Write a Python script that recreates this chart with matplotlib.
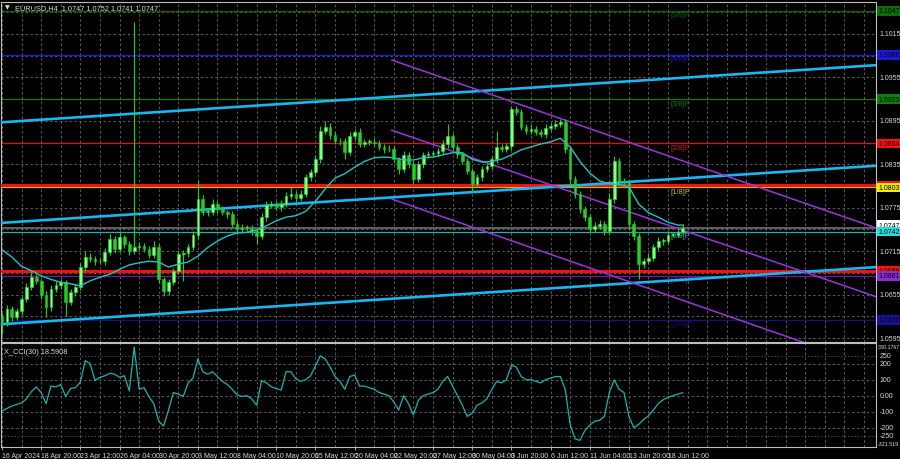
import matplotlib
matplotlib.use('Agg')
import matplotlib.pyplot as plt
import numpy as np

plt.rcParams['font.family'] = ['Liberation Sans', 'DejaVu Sans']

# ---------------- data ----------------
title = "EURUSD,H4  1.0747 1.0752 1.0741 1.0747"
cci_title = "X_CCI(30) 18.5908"

# closes in pips above 1.0000 (one candle = two H4 bars)
first_open = 625
close_pips = [617, 635, 624, 632, 649, 665, 679, 674, 655, 638,
              663, 668, 672, 645, 659, 665, 693, 707, 704, 701,
              701, 714, 732, 718, 735, 725, 715, 721, 722, 718,
              710, 721, 676, 660, 672, 687, 711, 712, 721, 737,
              787, 769, 769, 780, 773, 769, 766, 752, 746, 747,
              747, 743, 736, 762, 779, 780, 776, 780, 791, 794,
              788, 794, 817, 824, 842, 881, 887, 875, 867, 867,
              852, 874, 880, 863, 866, 866, 864, 859, 856, 856,
              842, 828, 848, 835, 815, 835, 848, 849, 850, 853,
              863, 874, 859, 849, 839, 826, 808, 817, 828, 833,
              842, 859, 856, 860, 911, 907, 887, 881, 884, 880,
              877, 885, 888, 891, 893, 856, 815, 794, 773, 762,
              746, 750, 752, 743, 787, 840, 811, 810, 752, 736,
              697, 701, 706, 721, 729, 729, 738, 738, 741, 747]
up_wick = [4, 5, 4, 5, 4, 6, 8, 4, 3, 5,
           5, 6, 4, 3, 4, 5, 6, 8, 5, 4,
           5, 6, 7, 4, 8, 3, 4, 311, 5, 4,
           4, 8, 4, 3, 4, 5, 4, 5, 4, 6,
           25, 6, 5, 7, 4, 4, 3, 4, 4, 5,
           4, 4, 3, 6, 5, 4, 4, 5, 6, 10,
           4, 5, 5, 4, 6, 7, 8, 5, 4, 5,
           4, 5, 4, 5, 4, 4, 5, 4, 4, 5,
           4, 3, 6, 4, 4, 5, 4, 5, 4, 4,
           6, 17, 4, 4, 3, 4, 4, 5, 4, 4,
           5, 22, 4, 5, 4, 5, 4, 4, 6, 4,
           4, 5, 4, 5, 5, 4, 3, 4, 4, 5,
           4, 5, 6, 4, 8, 6, 4, 5, 3, 4,
           4, 4, 5, 4, 5, 4, 5, 4, 4, 5]
dn_wick = [17, 5, 6, 4, 5, 4, 4, 5, 6, 14,
           5, 4, 5, 20, 5, 6, 4, 5, 4, 5,
           4, 5, 4, 5, 4, 5, 6, 4, 5, 4,
           5, 4, 5, 7, 5, 4, 4, 37, 5, 4,
           5, 4, 5, 4, 5, 4, 5, 4, 5, 4,
           4, 5, 11, 4, 5, 4, 4, 5, 4, 4,
           5, 4, 4, 5, 4, 5, 4, 5, 4, 5,
           10, 4, 5, 4, 4, 5, 4, 4, 5, 4,
           5, 6, 4, 5, 7, 4, 5, 4, 4, 5,
           4, 5, 4, 5, 4, 5, 11, 4, 5, 4,
           4, 5, 4, 4, 5, 4, 5, 4, 4, 5,
           4, 5, 4, 4, 5, 6, 8, 6, 5, 6,
           5, 4, 5, 6, 4, 5, 5, 4, 6, 5,
           21, 5, 4, 5, 4, 5, 4, 4, 4, 4]

# moving average (pips above 1.0000), read every second candle
ma_pips = [717, 707, 694, 688, 681, 676, 672, 670, 667, 674,
           679, 683, 690, 696, 699, 701, 700, 693, 697, 700,
           708, 720, 729, 736, 740, 741, 744, 750, 757, 762,
           764, 770, 784, 801, 816, 822, 831, 839, 844, 845,
           844, 841, 841, 844, 845, 848, 851, 851, 842, 838,
           839, 842, 848, 855, 859, 863, 866, 871, 859, 839,
           823, 812, 808, 807, 804, 780, 768, 762, 755, 751]

cci_values = [-95, -80, -65, -55, -45, -20, 25, 55, 20, -50,
              60, 55, 70, -5, 45, 50, 85, 220, 200, 95,
              115, 125, 140, 135, 115, 125, 30, 305, 40, 50,
              -5, -50, -160, -190, -90, 20, 10, -5, 80, 110,
              230, 150, 135, 150, 120, 90, 70, 40, 5, -5,
              0, -20, -60, 95, 80, 55, 45, 35, 150, 150,
              105, 90, 100, 125, 185, 250, 230, 180, 120, 90,
              40, 120, 130, 60, 60, 50, 40, 20, 10, 0,
              -40, -90, 0, -50, -120, -30, 0, 10, 20, 40,
              90, 120, 60, 0, -60, -130, -110, -60, -45, -20,
              40, 90, 80, 100, 190, 180, 120, 100, 100, 90,
              80, 100, 110, 120, 120, 40, -180, -270, -280, -220,
              -185, -160, -155, -130, 20, 100, 40, 20, -130, -200,
              -180, -150, -125, -90, -50, -25, -10, 0, 10, 18.59]

time_labels = ["16 Apr 2024", "18 Apr 20:00", "23 Apr 12:00", "26 Apr 04:00",
               "30 Apr 20:00", "3 May 12:00", "8 May 04:00", "10 May 20:00",
               "15 May 12:00", "20 May 04:00", "22 May 20:00", "27 May 12:00",
               "30 May 04:00", "3 Jun 20:00", "6 Jun 12:00", "11 Jun 04:00",
               "13 Jun 20:00", "18 Jun 12:00"]
time_label_bars = [0, 16, 32, 48, 64, 80, 96, 112, 128, 144, 160, 176,
                   192, 208, 224, 240, 256, 272]

murray_levels = [1.1047, 1.0986, 1.0925, 1.0864, 1.0803, 1.0742, 1.0681, 1.0620]
murray_names = ['[5/8]P', '[4/8]P', '[3/8]P', '[2/8]P', '[1/8]P', '[0/8]P', '[-1/8]P', '[-2/8]P']
murray_colors = ['#0b5e0b', '#1a1ad0', '#0d7d0d', '#e01010', '#c0c000', '#1fb0b0', '#6a1c9c', '#12127a']
support_levels = [1.0806, 1.0688]
bid_price = 1.0747
price_ticks = [1.1015, 1.0955, 1.0895, 1.0835, 1.0775, 1.0715, 1.0655, 1.0595]

# trend channels: (bar0, price0, bar1, price1)
blue_channel = [(-0.4, 1.0893, 357.0, 1.0972),
                (-0.4, 1.0754, 357.0, 1.0833),
                (-0.4, 1.0614, 357.0, 1.0693)]
purple_channel = [(159.2, 1.0979, 357.0, 1.0747),
                  (159.2, 1.0882, 357.0, 1.0652),
                  (159.2, 1.0787, 357.0, 1.0554)]

cci_ticks = [250, 200, 100, 0, -100, -200, -250]
cci_tick_text = ['250', '200', '100', '0.00', '-100', '-200', '-250']

# ---------------- derived ----------------
close = np.array(close_pips) / 10000 + 1.0
opens = np.concatenate([[first_open / 10000 + 1.0], close[:-1]])
high = np.maximum(opens, close) + np.array(up_wick) / 10000
low = np.minimum(opens, close) - np.array(dn_wick) / 10000
n = len(close)
bars = np.arange(n) * 2
ma = np.array(ma_pips) / 10000 + 1.0
ma_bars = np.arange(len(ma)) * 4
ma_bars = np.append(ma_bars, bars[-1])
ma = np.append(ma, ma[-1])

XMIN, XMAX = -0.4, 356.9
YMIN, YMAX = 1.05895, 1.10592

GRID = '#5c5c5c'
TXT = '#d8d8d8'
FS = 5.0

fig = plt.figure(figsize=(9, 4.6), dpi=100, facecolor='black')
ax = fig.add_axes([1 / 900, 1 - 343 / 460, 875 / 900, 340 / 460], facecolor='black')
ax2 = fig.add_axes([1 / 900, 1 - 448 / 460, 875 / 900, 104 / 460], facecolor='black')

for a in (ax, ax2):
    a.set_xlim(XMIN, XMAX)
    for s in a.spines.values():
        s.set_color('#bdbdbd')
        s.set_linewidth(0.8)
    for b in range(0, 357, 8):
        a.axvline(b, color=GRID, lw=0.7, ls=(0, (2.5, 2.5)), zorder=0)
    a.tick_params(left=False, right=False, labelleft=False, labelright=False)

ax.set_ylim(YMIN, YMAX)
ax.tick_params(bottom=False, labelbottom=False)
p = 1.0595
while p < YMAX:
    ax.axhline(p, color=GRID, lw=0.7, ls=(0, (2.5, 2.5)), zorder=0)
    p += 0.0030

# murray levels
for lvl, nm, col in zip(murray_levels, murray_names, murray_colors):
    ax.axhline(lvl, color=col, lw=0.9, zorder=1)
    ax.text(272.8, lvl - 0.00005, nm, color=col, fontsize=FS + 0.4, va='top', ha='left', zorder=2)

ax.axhline(bid_price, color='#7a7a7a', lw=1.1, zorder=1)
for lvl in support_levels:
    ax.axhline(lvl, color='#ff1010', lw=2.1, zorder=3)

# channels
for (b0, p0, b1, p1) in blue_channel:
    ax.plot([b0, b1], [p0, p1], color='#19b6f2', lw=1.9, zorder=4, solid_capstyle='butt')
for (b0, p0, b1, p1) in purple_channel:
    ax.plot([b0, b1], [p0, p1], color='#9b35db', lw=1.1, zorder=4)

# candles
up = close >= opens
ax.vlines(bars, low, high, color='#12d812', lw=0.8, zorder=5)
body_h = np.maximum(np.abs(close - opens), 0.00008)
ax.bar(bars[up], body_h[up], bottom=opens[up], width=1.1,
       color='#86ff86', edgecolor='#20e020', linewidth=0.4, zorder=6)
ax.bar(bars[~up], body_h[~up], bottom=close[~up], width=1.1,
       color='#2fc62f', edgecolor='#18d018', linewidth=0.4, zorder=6)

ax.plot(ma_bars, ma, color='#22c3c3', lw=1.0, zorder=7)

# right price labels
yt = ax.get_yaxis_transform()
for pt in price_ticks:
    ax.text(1.004, pt, f"{pt:.4f}", transform=yt, color=TXT, fontsize=FS,
            va='center', ha='left', clip_on=False)
box_labels = [(1.1047, '#0b6e0b'), (1.0986, '#1a1ad8'), (1.0925, '#0d7d0d'),
              (1.0864, '#ff1010'), (1.0806, '#ff1010'), (1.0803, '#f0f000'),
              (1.0751, '#ffffff'), (1.0742, '#22e0e0'), (1.0688, '#ff1010'),
              (1.0681, '#8a2bd0'), (1.0620, '#14149a')]
box_text = {1.0751: '1.0747'}
for lvl, col in box_labels:
    ax.text(1.003, lvl, box_text.get(lvl, f"{lvl:.4f}"), transform=yt, color='black',
            fontsize=FS, va='center', ha='left', clip_on=False,
            bbox=dict(boxstyle='square,pad=0.18', fc=col, ec='none'))

ax.text(0.004, 0.985, '\u25bc', transform=ax.transAxes, color=TXT, fontsize=4.5,
        va='center', ha='left', family='DejaVu Sans')
ax.text(0.016, 0.985, title, transform=ax.transAxes, color=TXT, fontsize=FS + 0.3,
        va='center', ha='left')

# CCI panel
ax2.set_ylim(-321.519, 330.1767)
for lv in [200, 100, 0, -100, -200]:
    ax2.axhline(lv, color=GRID, lw=0.7, ls=(0, (2.5, 2.5)), zorder=0)
for lv in [250, -250]:
    ax2.axhline(lv, color=GRID, lw=0.6, ls=(0, (1.5, 2.5)), zorder=0)
ax2.plot(bars, cci_values, color='#1cb3b3', lw=0.9, zorder=3)
ax2.text(0.004, 0.92, cci_title, transform=ax2.transAxes, color=TXT, fontsize=FS + 0.3,
         va='center', ha='left')
yt2 = ax2.get_yaxis_transform()
for v, t in zip(cci_ticks, cci_tick_text):
    ax2.text(1.004, v, t, transform=yt2, color=TXT, fontsize=FS, va='center', ha='left', clip_on=False)
ax2.text(1.0015, 0.995, '330.1767', transform=ax2.transAxes, color=TXT, fontsize=3.8,
         va='top', ha='left', clip_on=False)
ax2.text(1.0015, 0.005, '-321.519', transform=ax2.transAxes, color=TXT, fontsize=3.8,
         va='bottom', ha='left', clip_on=False)

ax2.set_xticks(time_label_bars)
ax2.set_xticklabels(time_labels)
ax2.tick_params(axis='x', colors='#bdbdbd', labelcolor=TXT, labelsize=FS,
                length=2, width=0.6, direction='out', pad=1.5)
for lab in ax2.get_xticklabels():
    lab.set_ha('left')

fig.savefig('out.png', dpi=100, facecolor='black')
